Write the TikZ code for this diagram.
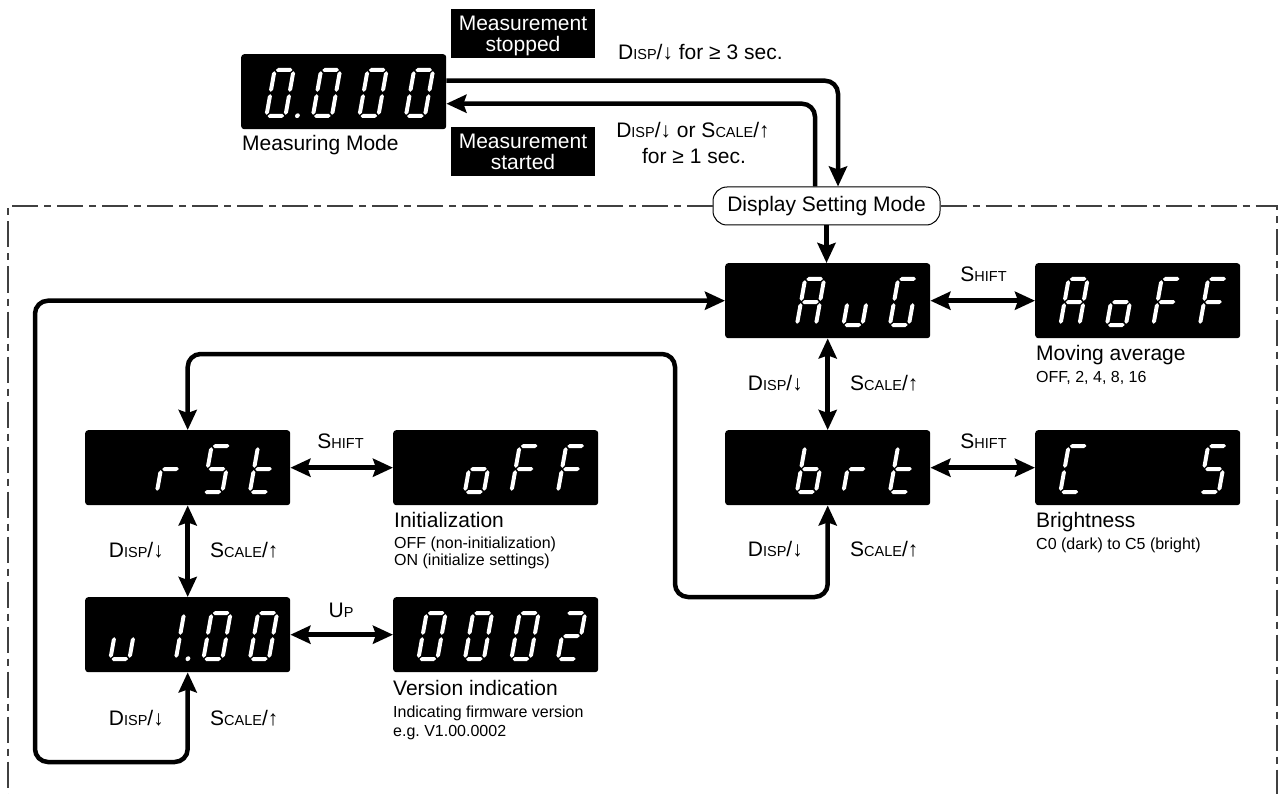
\documentclass[tikz,border=0pt]{standalone}
\usepackage{fontspec}
\setmainfont{Liberation Sans}
\usetikzlibrary{arrows.meta}
\frenchspacing
\newcommand{\fsz}[1]{\fontsize{#1}{#1}\selectfont}
\newcommand{\sm}[1]{{\fontsize{14.5}{14.5}\selectfont #1}}
% seven-segment glyph: box-left x, box-top y, position index, segment list
\newcommand{\segdigit}[4]{%
 \begin{scope}[shift={({#1+23+46.5*#3},{#2+64})},x={(1pt,0pt)},y={(0.18pt,1pt)}]
 \foreach \s in {#4}{%
  \if a\s\fill[segfill] (3.2,48)--(5.2,50)--(17.8,50)--(19.8,48)--(17.8,46)--(5.2,46)--cycle;\fi
  \if g\s\fill[segfill] (3.2,25)--(5.2,27)--(17.8,27)--(19.8,25)--(17.8,23)--(5.2,23)--cycle;\fi
  \if d\s\fill[segfill] (3.2,2)--(5.2,4)--(17.8,4)--(19.8,2)--(17.8,0)--(5.2,0)--cycle;\fi
  \if f\s\fill[segfill] (2,26.2)--(4,28.2)--(4,44.8)--(2,46.8)--(0,44.8)--(0,28.2)--cycle;\fi
  \if e\s\fill[segfill] (2,3.2)--(4,5.2)--(4,21.8)--(2,23.8)--(0,21.8)--(0,5.2)--cycle;\fi
  \if b\s\fill[segfill] (21,26.2)--(23,28.2)--(23,44.8)--(21,46.8)--(19,44.8)--(19,28.2)--cycle;\fi
  \if c\s\fill[segfill] (21,3.2)--(23,5.2)--(23,21.8)--(21,23.8)--(19,21.8)--(19,5.2)--cycle;\fi
  \if p\s\fill[segfill] (33,2.3) circle[radius=2.4];\fi
 }
 \end{scope}}
\tikzset{
 segfill/.style={white},
 disp/.style={fill=black, rounded corners=3pt, minimum width=205pt, minimum height=75pt, inner sep=0pt, anchor=north west},
 blk/.style={fill=black, minimum width=144pt, minimum height=49pt, inner sep=0pt},
 wlab/.style={text=white, font=\fsz{21}, inner sep=0pt, align=center},
 lab/.style={font=\fsz{21}, inner sep=0pt},
 small/.style={font=\fsz{16}, inner sep=0pt},
 tip/.tip={Stealth[length=20pt,width=18pt,inset=3pt]},
 arr/.style={line width=4.5pt, rounded corners=13pt, -tip},
 darr/.style={line width=4.5pt, rounded corners=13pt, tip-tip},
 frame/.style={line width=1.1pt, black!75, dash pattern=on 26pt off 6pt on 7pt off 6pt},
 modebox/.style={draw, line width=1pt, fill=white, rounded corners=14pt, minimum width=227pt, minimum height=38pt, inner sep=0pt, font=\fsz{21}}
}
\begin{document}
\begin{tikzpicture}[x=1pt,y=-1pt]
\useasboundingbox (0,0) rectangle (1279,794);

% mode box and frame
\node[modebox] (dsm) at (826.5,206) {Display Setting Mode};
\draw[frame] (dsm.west) -- (8,206) -- (8,794);
\draw[frame] (dsm.east) -- (1277,206) -- (1277,794);

% display boxes
\node[disp] (meas) at (241,54) {};
\node[disp] (avg) at (725,263) {};
\node[disp] (aoff) at (1035,263) {};
\node[disp] (brt) at (725,430) {};
\node[disp] (cfive) at (1035,430) {};
\node[disp] (rst) at (85,430) {};
\node[disp] (off) at (393,430) {};
\node[disp] (ver) at (85,597) {};
\node[disp] (vnum) at (393,597) {};

% glyphs
\segdigit{241}{54}{0}{a,b,c,d,e,f,p}
\segdigit{241}{54}{1}{a,b,c,d,e,f}
\segdigit{241}{54}{2}{a,b,c,d,e,f}
\segdigit{241}{54}{3}{a,b,c,d,e,f}

\segdigit{725}{263}{1}{a,b,c,e,f,g}
\segdigit{725}{263}{2}{c,d,e}
\segdigit{725}{263}{3}{a,c,d,e,f}

\segdigit{1035}{263}{0}{a,b,c,e,f,g}
\segdigit{1035}{263}{1}{c,d,e,g}
\segdigit{1035}{263}{2}{a,e,f,g}
\segdigit{1035}{263}{3}{a,e,f,g}

\segdigit{725}{430}{1}{c,d,e,f,g}
\segdigit{725}{430}{2}{e,g}
\segdigit{725}{430}{3}{d,e,f,g}

\segdigit{1035}{430}{0}{a,d,e,f}
\segdigit{1035}{430}{3}{a,c,d,f,g}

\segdigit{85}{430}{1}{e,g}
\segdigit{85}{430}{2}{a,c,d,f,g}
\segdigit{85}{430}{3}{d,e,f,g}

\segdigit{393}{430}{1}{c,d,e,g}
\segdigit{393}{430}{2}{a,e,f,g}
\segdigit{393}{430}{3}{a,e,f,g}

\segdigit{85}{597}{0}{c,d,e}
\segdigit{85}{597}{1}{b,c,p}
\segdigit{85}{597}{2}{a,b,c,d,e,f}
\segdigit{85}{597}{3}{a,b,c,d,e,f}

\segdigit{393}{597}{0}{a,b,c,d,e,f}
\segdigit{393}{597}{1}{a,b,c,d,e,f}
\segdigit{393}{597}{2}{a,b,c,d,e,f}
\segdigit{393}{597}{3}{a,b,d,e,g}

% black tags
\node[blk] (stopbox) at (523,33.5) {};
\node[wlab] (stoptxt) at (523,36) {Measurement\\stopped};
\node[blk] (startbox) at (523,152) {};
\node[wlab] (starttxt) at (523,152) {Measurement\\started};

% labels
\node[lab, anchor=base west] (mmlab) at (242,151) {Measuring Mode};
\node[lab, anchor=base west] (t3s) at (618,60) {D\sm{ISP}/↓ for ≥ 3 sec.};
\node[lab, anchor=base] (t1a) at (693,138) {D\sm{ISP}/↓ or S\sm{CALE}/↑};
\node[lab, anchor=base] (t1b) at (694,164) {for ≥ 1 sec.};

\node[lab, anchor=base] (sh1) at (983.5,282) {S\sm{HIFT}};
\node[lab, anchor=base] (sh2) at (983.5,448) {S\sm{HIFT}};
\node[lab, anchor=base] (sh3) at (340.5,448) {S\sm{HIFT}};
\node[lab, anchor=base] (up1) at (341,617) {U\sm{P}};

\node[lab, anchor=base east] (dl1) at (803,390) {D\sm{ISP}/↓};
\node[lab, anchor=base west] (sl1) at (850,390) {S\sm{CALE}/↑};
\node[lab, anchor=base east] (dl2) at (803,556) {D\sm{ISP}/↓};
\node[lab, anchor=base west] (sl2) at (850,556) {S\sm{CALE}/↑};
\node[lab, anchor=base east] (dl3) at (164,557) {D\sm{ISP}/↓};
\node[lab, anchor=base west] (sl3) at (210,557) {S\sm{CALE}/↑};
\node[lab, anchor=base east] (dl4) at (164,725) {D\sm{ISP}/↓};
\node[lab, anchor=base west] (sl4) at (210,725) {S\sm{CALE}/↑};

\node[lab, anchor=base west] (mav) at (1036,360) {Moving average};
\node[small, anchor=base west] (mavs) at (1036,382) {OFF, 2, 4, 8, 16};
\node[lab, anchor=base west] (bri) at (1036,527) {Brightness};
\node[small, anchor=base west] (bris) at (1036,549) {C0 (dark) to C5 (bright)};
\node[lab, anchor=base west] (ini) at (394,527) {Initialization};
\node[small, anchor=base west] (inis1) at (394,548) {OFF (non-initialization)};
\node[small, anchor=base west] (inis2) at (394,565) {ON (initialize settings)};
\node[lab, anchor=base west] (vind) at (393,695) {Version indication};
\node[small, anchor=base west] (vinds1) at (393,717) {Indicating firmware version};
\node[small, anchor=base west] (vinds2) at (393,736) {e.g. V1.00.0002};

% connectors
\draw[arr] ([yshift=11pt]meas.east) -| ([xshift=11.5pt]dsm.north);
\draw[arr] ([xshift=-11.5pt]dsm.north) |- ([yshift=-12pt]meas.east);
\draw[arr] (dsm.south) -- (dsm.south |- avg.north);

\draw[darr] (avg.east) -- (aoff.west);
\draw[darr] (avg.south) -- (brt.north);
\draw[darr] (brt.east) -- (cfive.west);
\draw[darr] (rst.east) -- (off.west);
\draw[darr] (rst.south) -- (ver.north);
\draw[darr] (ver.east) -- (vnum.west);

\coordinate (c1) at (675,597);
\coordinate (c2) at (675,354);
\draw[darr] (brt.south) |- (c1) -- (c2) -| (rst.north);

\coordinate (c3) at (35,762);
\draw[darr] (ver.south) |- (c3) |- (avg.west);
\end{tikzpicture}
\end{document}
